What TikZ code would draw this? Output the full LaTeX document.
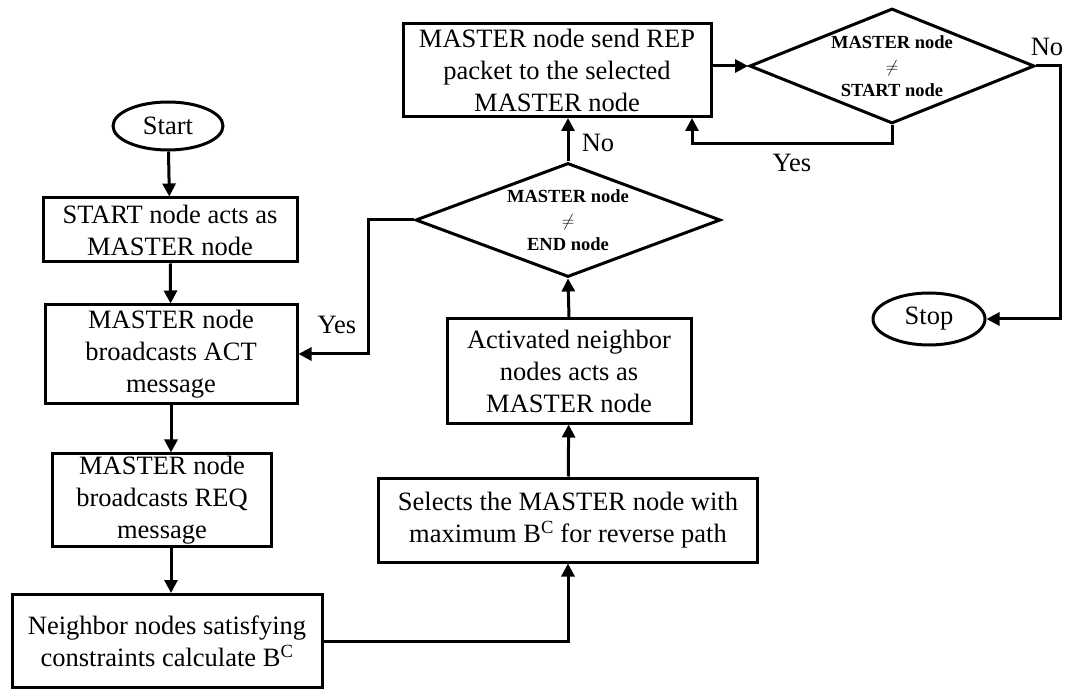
\documentclass[tikz,border=0pt]{standalone}
\usepackage{fontspec}
\setmainfont{Liberation Serif}
\usetikzlibrary{shapes.geometric,arrows.meta}
\tikzset{
	box/.style={draw, line width=3pt, align=center, inner sep=2pt},
	term/.style={draw, ellipse, line width=3pt, inner sep=0pt},
	test/.style={draw, diamond, line width=3pt, align=center, inner sep=0pt, aspect=2.6,
		font=\fontsize{18.5}{24}\selectfont\bfseries},
	arr/.style={line width=3pt, -{Triangle[length=13pt,width=13pt]}},
	txt/.style={font=\fontsize{26.5}{32}\selectfont}
}
\begin{document}
\begin{tikzpicture}[x=1pt, y=-1pt, every node/.style={txt}]
	\useasboundingbox (0,0) rectangle (1065,692);
	\node[term, minimum width=110pt, minimum height=48pt] (start) at (168,126) {Start};
	\node[box, minimum width=254pt, minimum height=64pt] (b1) at (170,230) {START node acts as\\MASTER node};
	\node[box, minimum width=252pt, minimum height=98pt] (b2) at (171,354) {MASTER node\\broadcasts ACT\\message};
	\node[box, minimum width=219pt, minimum height=91pt] (b3) at (162,500) {MASTER node\\broadcasts REQ\\message};
	\node[box, minimum width=310pt, minimum height=93pt] (b4) at (167,641) {Neighbor nodes satisfying\\constraints calculate B\textsuperscript{C}};
	\node[box, minimum width=379pt, minimum height=84pt] (sel) at (568,520) {Selects the MASTER node with\\maximum B\textsuperscript{C} for reverse path};
	\node[box, minimum width=244pt, minimum height=104pt] (act) at (569,371) {Activated neighbor\\nodes acts as\\MASTER node};
	\node[test, minimum width=305pt, minimum height=114pt] (d1) at (568,220) {MASTER node\\$\neq$\\END node};
	\node[box, minimum width=308pt, minimum height=93pt] (rep) at (557,70) {MASTER node send REP\\packet to the selected\\MASTER node};
	\node[test, minimum width=285pt, minimum height=115pt] (d2) at (892,66) {MASTER node\\$\neq$\\START node};
	\node[term, minimum width=112pt, minimum height=52pt] (stop) at (929,319) {Stop};
	\coordinate (c1) at (368,220);
	\coordinate (c2) at (692,144);
	\coordinate (c3) at (1060,66);
	\draw[arr] (start) -- (b1);
	\draw[arr] (b1) -- (b2);
	\draw[arr] (b2.south) -- (b2.south |- b3.north);
	\draw[arr] (b3.south -| b2.south) -- (b2.south |- b4.north);
	\draw[arr] (b4.east) -| (sel.south);
	\draw[arr] (sel) -- (act);
	\draw[arr] (act.north) -- (d1.south);
	\draw[arr] (d1.north) -- (d1.north |- rep.south);
	\draw[arr] (d1.west) -- (c1) |- (b2.east);
	\draw[arr] (rep.east |- d2.west) -- (d2.west);
	\draw[arr] (d2.south) |- (c2) -- (c2 |- rep.south);
	\draw[arr] (d2.east) -- (c3) |- (stop.east);
	\node (yes1) at (337,325) {Yes};
	\node (no1) at (598,143) {No};
	\node (yes2) at (792,163) {Yes};
	\node (no2) at (1047,47) {No};
\end{tikzpicture}
\end{document}
